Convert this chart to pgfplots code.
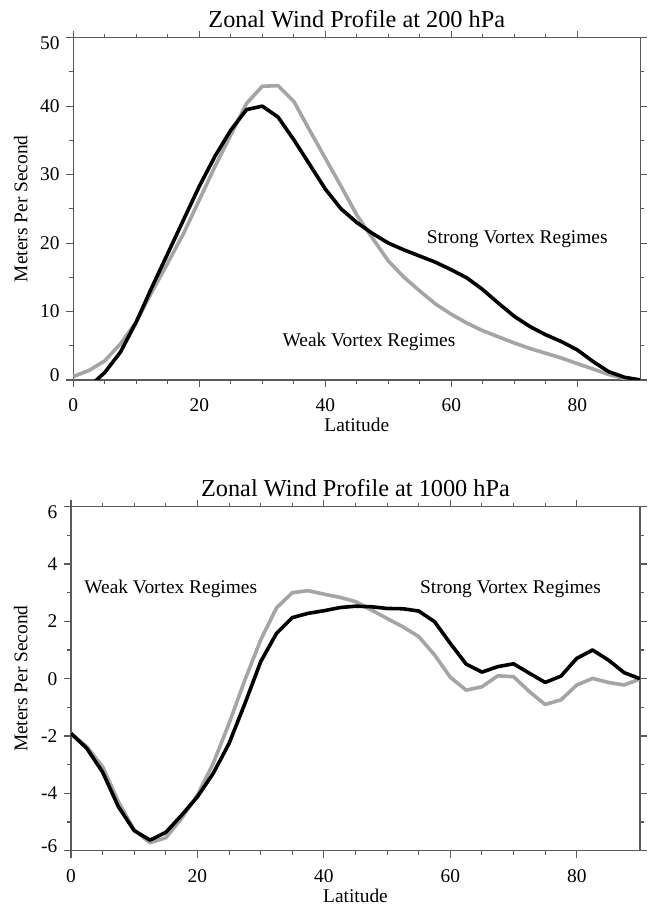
\documentclass[border=0pt]{standalone}
\usepackage{fontspec}
\setmainfont{Liberation Serif}
\usepackage{pgfplots}
\pgfplotsset{compat=1.18}
\definecolor{weakgray}{RGB}{165,165,165}
\definecolor{axgray}{RGB}{90,90,90}

\pgfplotstableread{
lat weak strong
0 0.5 -2.5
2.5 1.4 -1.0
5 2.8 1.1
7.5 5.3 4.1
10 8.5 8.5
12.5 12.9 13.6
15 17.1 18.5
17.5 21.4 23.4
20 26.3 28.3
22.5 31.2 32.7
25 35.8 36.5
27.5 40.4 39.5
30 42.9 40.0
32.5 43.0 38.4
35 40.7 35.1
37.5 36.5 31.5
40 32.4 27.9
42.5 28.3 25.0
45 24.1 23.0
47.5 20.7 21.4
50 17.4 20.0
52.5 15.0 19.0
55 13.0 18.1
57.5 11.1 17.2
60 9.6 16.1
62.5 8.3 14.9
65 7.2 13.2
67.5 6.3 11.2
70 5.4 9.3
72.5 4.6 7.8
75 3.9 6.6
77.5 3.2 5.6
80 2.4 4.4
82.5 1.6 2.7
85 0.8 1.2
87.5 0.2 0.4
90 0 0
}\tabtop

\pgfplotstableread{
lat weak strong
0 -1.91 -1.91
2.5 -2.37 -2.43
5 -3.07 -3.26
7.5 -4.29 -4.47
10 -5.28 -5.30
12.5 -5.72 -5.63
15 -5.55 -5.36
17.5 -4.87 -4.76
20 -4.06 -4.12
22.5 -2.95 -3.30
25 -1.56 -2.26
27.5 -0.05 -0.87
30 1.35 0.59
32.5 2.47 1.58
35 3.00 2.13
37.5 3.07 2.28
40 2.95 2.37
42.5 2.84 2.48
45 2.69 2.53
47.5 2.40 2.51
50 2.10 2.45
52.5 1.81 2.44
55 1.47 2.36
57.5 0.83 1.99
60 0.05 1.23
62.5 -0.40 0.51
65 -0.28 0.23
67.5 0.10 0.42
70 0.07 0.52
72.5 -0.45 0.19
75 -0.90 -0.13
77.5 -0.74 0.09
80 -0.22 0.71
82.5 0.01 1.00
85 -0.13 0.65
87.5 -0.22 0.21
90 -0.01 0
}\tabbot

\pgfplotsset{
 zonal/.style={
  scale only axis,
  xmin=0,xmax=90,
  xtick={0,20,40,60,80},
  minor x tick num=3,
  minor y tick num=1,
  tick align=outside,
  xtick pos=both, ytick pos=both,
  xticklabel pos=lower, yticklabel pos=left,
  major tick length=7pt, minor tick length=4pt,
  axis line style={axgray, line width=1.1pt},
  every tick/.style={axgray, line width=1.1pt},
  /pgf/number format/assume math mode=true,
  tick label style={font=\fontsize{19.4}{22}\selectfont},
  label style={font=\fontsize{19.4}{22}\selectfont},
  title style={font=\fontsize{24.3}{28}\selectfont, at={(axis description cs:0.5,1)}, anchor=base, yshift=4pt},
  xlabel style={at={(axis description cs:0.5,0)}, anchor=base, yshift=-52pt},
  xticklabel style={anchor=base, yshift=-25pt},
  yticklabel style={anchor=east, inner sep=0pt, xshift=-6.5pt},
  xlabel={Latitude},
  ylabel={Meters Per Second},
 },
 weakline/.style={weakgray, line width=3.6pt, line join=round},
 strongline/.style={black, line width=3.6pt, line join=round},
}

\begin{document}
\begin{tikzpicture}
\useasboundingbox (0,0) rectangle (654pt,906pt);
\begin{axis}[zonal,
  at={(73.3pt,526pt)}, anchor=south west,
  width=567pt, height=342.3pt,
  ymin=0, ymax=50,
  ytick={0,10,20,30,40,50},
  yticklabels={\raisebox{4.5pt}[\height][\depth]{0},10,20,30,40,\raisebox{-5.5pt}[\height][\depth]{50}},
  title={Zonal Wind Profile at 200 hPa},
  ylabel style={at={(axis description cs:-0.0811,0.5)}, anchor=base},
]
\addplot[weakline] table[x=lat,y=weak] {\tabtop};
\addplot[strongline] table[x=lat,y=strong] {\tabtop};
\node[anchor=base west, inner sep=0pt, font=\fontsize{19.4}{22}\selectfont] at (axis cs:56.1,19.95) {Strong Vortex Regimes};
\node[anchor=base west, inner sep=0pt, font=\fontsize{19.4}{22}\selectfont] at (axis cs:33.2,4.9) {Weak Vortex Regimes};
\end{axis}

\begin{axis}[zonal,
  at={(71pt,55.3pt)}, anchor=south west,
  width=569pt, height=344pt,
  ymin=-6, ymax=6,
  ytick={-6,-4,-2,0,2,4,6},
  yticklabels={\raisebox{5pt}[\height][\depth]{-6},-4,-2,0,2,4,\raisebox{-5.5pt}[\height][\depth]{6}},
  title={Zonal Wind Profile at 1000 hPa},
  ylabel style={at={(axis description cs:-0.0768,0.5)}, anchor=base},
]
\addplot[weakline] table[x=lat,y=weak] {\tabbot};
\addplot[strongline] table[x=lat,y=strong] {\tabbot};
\node[anchor=base west, inner sep=0pt, font=\fontsize{19.4}{22}\selectfont] at (axis cs:2.1,2.98) {Weak Vortex Regimes};
\node[anchor=base west, inner sep=0pt, font=\fontsize{19.4}{22}\selectfont] at (axis cs:55.2,2.98) {Strong Vortex Regimes};
\end{axis}
\end{tikzpicture}
\end{document}
